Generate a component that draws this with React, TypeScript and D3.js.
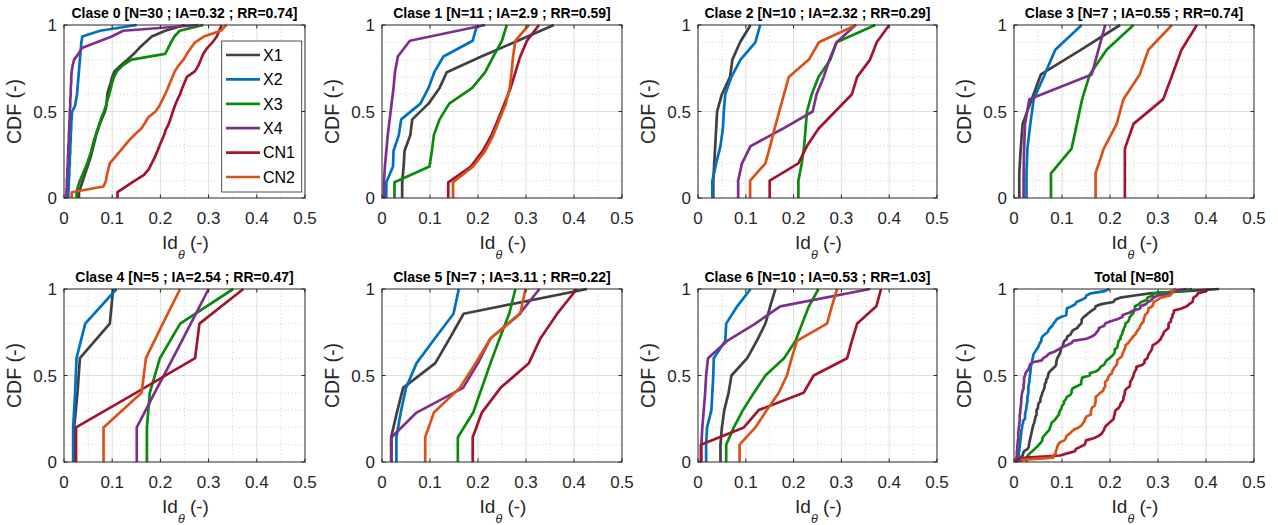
import React from "react";
import * as d3 from "d3";

// ---------- data ----------
const seriesNames = ["X1", "X2", "X3", "X4", "CN1", "CN2"];
const seriesColors = ["#404040", "#0072BD", "#0B8A0B", "#7E2F8E", "#A2142F", "#D95319"];
const xTicks = [0, 0.1, 0.2, 0.3, 0.4, 0.5];
const yTicks = [0, 0.5, 1];
const xTickLabels = ["0", "0.1", "0.2", "0.3", "0.4", "0.5"];
const yTickLabels = ["0", "0.5", "1"];
const panelTitles = [
  "Clase 0 [N=30 ; IA=0.32 ; RR=0.74]",
  "Clase 1 [N=11 ; IA=2.9 ; RR=0.59]",
  "Clase 2 [N=10 ; IA=2.32 ; RR=0.29]",
  "Clase 3 [N=7 ; IA=0.55 ; RR=0.74]",
  "Clase 4 [N=5 ; IA=2.54 ; RR=0.47]",
  "Clase 5 [N=7 ; IA=3.11 ; RR=0.22]",
  "Clase 6 [N=10 ; IA=0.53 ; RR=1.03]",
  "Total [N=80]",
];

// Id_theta samples per class, in series order X1, X2, X3, X4, CN1, CN2
const clase0: number[][] = [
  [0.031, 0.035, 0.039, 0.043, 0.047, 0.051, 0.055, 0.058, 0.061, 0.064, 0.067, 0.071, 0.075, 0.08, 0.085, 0.088, 0.089, 0.09, 0.093, 0.097, 0.1, 0.105, 0.118, 0.132, 0.145, 0.156, 0.169, 0.182, 0.21, 0.251],
  [0.009, 0.01, 0.01, 0.011, 0.011, 0.012, 0.012, 0.013, 0.013, 0.014, 0.014, 0.015, 0.015, 0.016, 0.017, 0.023, 0.025, 0.027, 0.028, 0.029, 0.03, 0.031, 0.032, 0.033, 0.034, 0.035, 0.036, 0.038, 0.075, 0.151],
  [0.026, 0.029, 0.033, 0.038, 0.043, 0.048, 0.052, 0.056, 0.059, 0.062, 0.066, 0.07, 0.074, 0.078, 0.083, 0.087, 0.09, 0.094, 0.097, 0.1, 0.104, 0.11, 0.122, 0.14, 0.21, 0.216, 0.222, 0.229, 0.24, 0.289],
  [0.005, 0.006, 0.006, 0.007, 0.007, 0.008, 0.008, 0.009, 0.009, 0.01, 0.01, 0.011, 0.011, 0.012, 0.012, 0.013, 0.013, 0.014, 0.014, 0.015, 0.015, 0.016, 0.018, 0.021, 0.03, 0.037, 0.068, 0.099, 0.123, 0.279],
  [0.111, 0.129, 0.147, 0.166, 0.176, 0.182, 0.188, 0.193, 0.198, 0.203, 0.208, 0.212, 0.218, 0.222, 0.226, 0.23, 0.235, 0.241, 0.245, 0.25, 0.255, 0.272, 0.279, 0.284, 0.289, 0.297, 0.308, 0.317, 0.322, 0.327],
  [0.016, 0.082, 0.087, 0.089, 0.092, 0.095, 0.105, 0.115, 0.125, 0.135, 0.147, 0.16, 0.168, 0.175, 0.19, 0.198, 0.204, 0.21, 0.215, 0.22, 0.225, 0.23, 0.238, 0.248, 0.255, 0.263, 0.272, 0.29, 0.325, 0.337],
];
const clase1: number[][] = [
  [0.042, 0.045, 0.047, 0.059, 0.063, 0.097, 0.12, 0.135, 0.207, 0.283, 0.358],
  [0.009, 0.023, 0.024, 0.035, 0.04, 0.08, 0.097, 0.109, 0.128, 0.189, 0.198],
  [0.026, 0.099, 0.104, 0.108, 0.12, 0.14, 0.188, 0.215, 0.232, 0.25, 0.26],
  [0.004, 0.006, 0.009, 0.012, 0.016, 0.02, 0.024, 0.027, 0.033, 0.058, 0.215],
  [0.138, 0.185, 0.21, 0.228, 0.242, 0.255, 0.268, 0.278, 0.288, 0.302, 0.327],
  [0.148, 0.19, 0.215, 0.232, 0.245, 0.258, 0.266, 0.27, 0.273, 0.278, 0.306],
];
const clase2: number[][] = [
  [0.032, 0.034, 0.036, 0.038, 0.04, 0.05, 0.067, 0.072, 0.088, 0.11],
  [0.03, 0.038, 0.047, 0.052, 0.054, 0.057, 0.07, 0.089, 0.12, 0.13],
  [0.21, 0.217, 0.222, 0.225, 0.228, 0.238, 0.252, 0.277, 0.29, 0.371],
  [0.084, 0.092, 0.11, 0.177, 0.24, 0.248, 0.263, 0.275, 0.29, 0.33],
  [0.15, 0.21, 0.228, 0.252, 0.287, 0.322, 0.333, 0.36, 0.374, 0.4],
  [0.109, 0.141, 0.151, 0.16, 0.17, 0.18, 0.19, 0.232, 0.253, 0.331],
];
const clase3: number[][] = [
  [0.011, 0.014, 0.018, 0.037, 0.056, 0.14, 0.221],
  [0.026, 0.028, 0.034, 0.041, 0.064, 0.086, 0.141],
  [0.077, 0.12, 0.131, 0.142, 0.158, 0.193, 0.249],
  [0.02, 0.021, 0.023, 0.032, 0.162, 0.176, 0.19],
  [0.231, 0.231, 0.249, 0.311, 0.33, 0.349, 0.381],
  [0.17, 0.187, 0.214, 0.228, 0.262, 0.28, 0.329],
];
const clase4: number[][] = [
  [0.021, 0.028, 0.033, 0.095, 0.102],
  [0.019, 0.023, 0.026, 0.044, 0.109],
  [0.172, 0.178, 0.199, 0.241, 0.351],
  [0.151, 0.188, 0.226, 0.263, 0.3],
  [0.025, 0.149, 0.272, 0.281, 0.372],
  [0.082, 0.161, 0.17, 0.205, 0.241],
];
const clase5: number[][] = [
  [0.019, 0.031, 0.044, 0.111, 0.141, 0.17, 0.427],
  [0.03, 0.039, 0.05, 0.072, 0.11, 0.149, 0.16],
  [0.158, 0.19, 0.208, 0.226, 0.245, 0.265, 0.278],
  [0.02, 0.072, 0.169, 0.2, 0.226, 0.287, 0.328],
  [0.189, 0.208, 0.247, 0.306, 0.33, 0.365, 0.406],
  [0.09, 0.108, 0.162, 0.195, 0.226, 0.288, 0.299],
];
const clase6: number[][] = [
  [0.047, 0.05, 0.055, 0.064, 0.07, 0.103, 0.123, 0.141, 0.151, 0.162],
  [0.017, 0.019, 0.028, 0.03, 0.032, 0.033, 0.057, 0.059, 0.082, 0.11],
  [0.059, 0.075, 0.094, 0.117, 0.141, 0.18, 0.204, 0.218, 0.232, 0.252],
  [0.007, 0.009, 0.012, 0.015, 0.017, 0.021, 0.061, 0.12, 0.172, 0.36],
  [0.006, 0.096, 0.127, 0.221, 0.242, 0.312, 0.322, 0.333, 0.373, 0.383],
  [0.087, 0.12, 0.144, 0.169, 0.186, 0.196, 0.207, 0.27, 0.28, 0.291],
];
const classes = [clase0, clase1, clase2, clase3, clase4, clase5, clase6];
// Total = all classes pooled
const totalSamples: number[][] = seriesNames.map((_, s) => classes.flatMap((c) => c[s]));
const panelData = [...classes, totalSamples];

// ---------- layout ----------
const W = 1278;
const H = 525;
const colLeft = [64, 382, 698, 1014];
const colRight = [305, 622, 937, 1254];
const rowTop = [25, 289];
const rowBottom = [198, 462];
const FONT = "'Liberation Sans', Arial, Helvetica, sans-serif";
const AX = "#262626";

function ecdf(samples: number[]): [number, number][] {
  const s = [...samples].sort((a, b) => a - b);
  const n = s.length;
  const pts: [number, number][] = [[s[0], 0]];
  s.forEach((v, i) => pts.push([v, (i + 1) / n]));
  return pts;
}

const minorX = d3.range(0, 0.5001, 0.05).filter((v) => Math.abs(v * 10 - Math.round(v * 10)) > 1e-6);
const minorY = d3.range(0.1, 1, 0.1).filter((v) => Math.abs(v - 0.5) > 1e-6);

function Panel({ idx }: { idx: number }) {
  const col = idx % 4;
  const row = Math.floor(idx / 4);
  const l = colLeft[col], r = colRight[col], t = rowTop[row], b = rowBottom[row];
  const x = d3.scaleLinear().domain([0, 0.5]).range([l, r]);
  const y = d3.scaleLinear().domain([0, 1]).range([b, t]);
  const line = d3.line<[number, number]>().x((d) => x(d[0])).y((d) => y(d[1]));
  const cx = (l + r) / 2;
  const cy = (t + b) / 2;
  const tl = 3.5;
  return (
    <g>
      <rect x={l} y={t} width={r - l} height={b - t} fill="#fff" />
      {minorX.map((v) => (
        <line key={"mx" + v} x1={x(v)} x2={x(v)} y1={t} y2={b} stroke="#c8c8c8" strokeWidth={0.8} strokeDasharray="1 2.5" />
      ))}
      {minorY.map((v) => (
        <line key={"my" + v} x1={l} x2={r} y1={y(v)} y2={y(v)} stroke="#c8c8c8" strokeWidth={0.8} strokeDasharray="1 2.5" />
      ))}
      {xTicks.slice(1, -1).map((v) => (
        <line key={"gx" + v} x1={x(v)} x2={x(v)} y1={t} y2={b} stroke="#dedede" strokeWidth={1} />
      ))}
      {yTicks.slice(1, -1).map((v) => (
        <line key={"gy" + v} x1={l} x2={r} y1={y(v)} y2={y(v)} stroke="#dedede" strokeWidth={1} />
      ))}
      {panelData[idx].map((samples, s) => (
        <path key={s} d={line(ecdf(samples)) || ""} fill="none" stroke={seriesColors[s]} strokeWidth={2.7} strokeLinejoin="round" strokeLinecap="butt" />
      ))}
      <rect x={l} y={t} width={r - l} height={b - t} fill="none" stroke={AX} strokeWidth={1} />
      {xTicks.map((v) => (
        <g key={"tx" + v}>
          <line x1={x(v)} x2={x(v)} y1={b} y2={b - tl} stroke={AX} />
          <line x1={x(v)} x2={x(v)} y1={t} y2={t + tl} stroke={AX} />
        </g>
      ))}
      {yTicks.map((v) => (
        <g key={"ty" + v}>
          <line x1={l} x2={l + tl} y1={y(v)} y2={y(v)} stroke={AX} />
          <line x1={r} x2={r - tl} y1={y(v)} y2={y(v)} stroke={AX} />
        </g>
      ))}
      {xTicks.map((v, i) => (
        <text key={"lx" + v} x={x(v)} y={b + 26} textAnchor="middle" fontSize={17} fill={AX} fontFamily={FONT}>
          {xTickLabels[i]}
        </text>
      ))}
      {yTicks.map((v, i) => (
        <text key={"ly" + v} x={l - 7} y={y(v) + 6} textAnchor="end" fontSize={17} fill={AX} fontFamily={FONT}>
          {yTickLabels[i]}
        </text>
      ))}
      <text x={cx} y={t - 7} textAnchor="middle" fontSize={14} fontWeight="bold" fill="#000" fontFamily={FONT}>
        {panelTitles[idx]}
      </text>
      <text transform={`translate(${l - 43},${cy}) rotate(-90)`} textAnchor="middle" fontSize={19.5} fill={AX} fontFamily={FONT}>
        CDF (-)
      </text>
      <text x={cx + 1} y={b + 51} textAnchor="middle" fontSize={19} fill={AX} fontFamily={FONT}>
        Id
        <tspan dy={10} fontSize={12.5} fontStyle="italic">θ</tspan>
        <tspan dy={-10}> (-)</tspan>
      </text>
    </g>
  );
}

function Legend() {
  const lx = 221.7, ly = 41, lw = 80, lh = 151;
  return (
    <g>
      <rect x={lx} y={ly} width={lw} height={lh} fill="#fff" stroke={AX} strokeWidth={0.8} />
      {seriesNames.map((n, i) => {
        const yy = 55 + i * 24.4;
        return (
          <g key={n}>
            <line x1={226} x2={260} y1={yy} y2={yy} stroke={seriesColors[i]} strokeWidth={2.7} />
            <text x={263} y={yy + 5.8} fontSize={16} fill="#000" fontFamily={FONT}>
              {n}
            </text>
          </g>
        );
      })}
    </g>
  );
}

export default function App() {
  return (
    <svg width={W} height={H} style={{ position: "absolute", left: 0, top: 0, background: "#fff" }}>
      <rect width={W} height={H} fill="#fff" />
      {panelData.map((_, i) => (
        <Panel key={i} idx={i} />
      ))}
      <Legend />
    </svg>
  );
}
